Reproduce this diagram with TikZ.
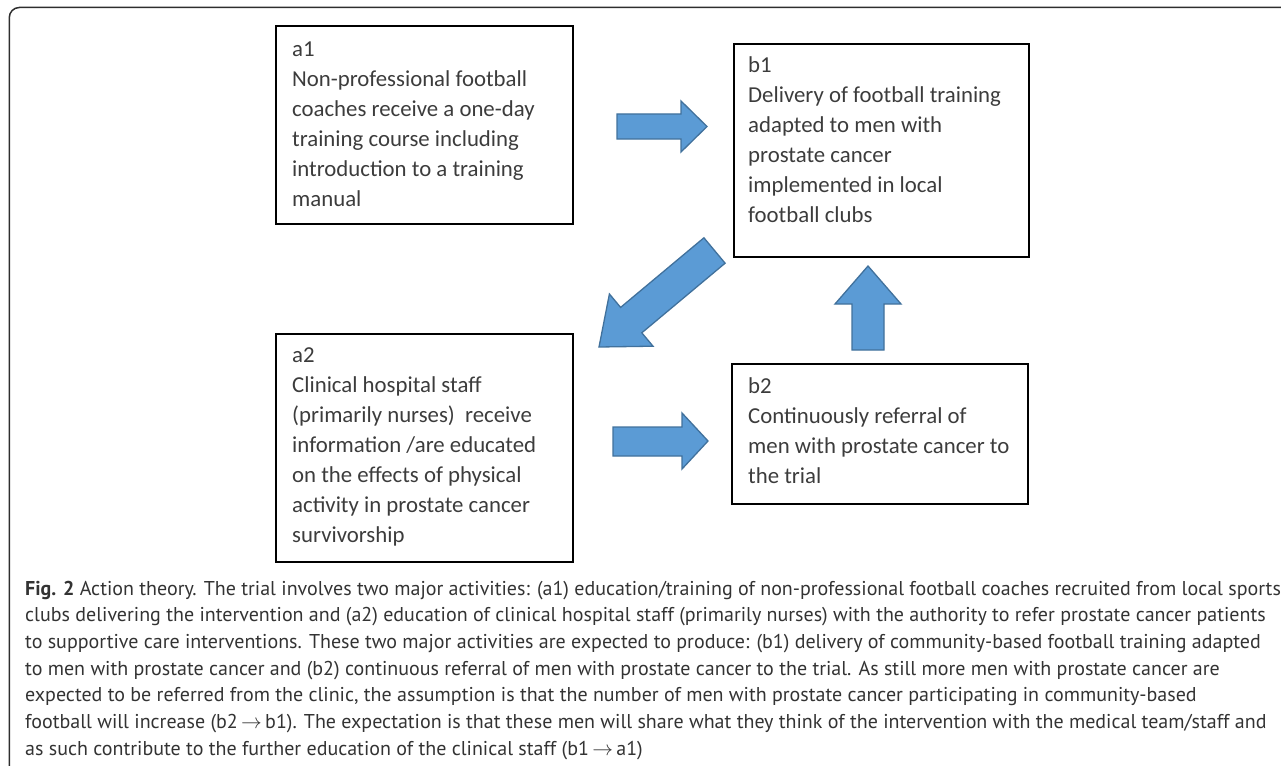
\documentclass[tikz,border=0pt]{standalone}
\usepackage{fontspec}
\setmainfont{Carlito}
\newfontfamily\capfont{PT Sans}
\usetikzlibrary{calc}
\definecolor{arrowfill}{HTML}{5B9BD5}
\definecolor{arrowline}{HTML}{41719C}
\definecolor{boxtextc}{HTML}{3C3C3C}
\definecolor{captextc}{HTML}{333333}
\definecolor{framec}{HTML}{2E2E2E}
\tikzset{
  box/.style={draw=black, line width=2.2pt, inner sep=0pt, anchor=north west},
  boxtext/.style={anchor=base west, inner sep=0pt, align=left, text=boxtextc,
    font=\fontsize{22.8}{30}\selectfont},
  blockarrow/.style={fill=arrowfill, draw=arrowline, line width=1.3pt, line join=miter},
  captext/.style={anchor=base west, inner sep=0pt, align=left, text=captextc,
    font=\capfont\fontsize{20}{26.7}\selectfont}
}
\begin{document}
\begin{tikzpicture}[x=1pt,y=-1pt]
\useasboundingbox (0,0) rectangle (1281,765);
% outer frame (cropped)
\draw[framec, line width=1.5pt, rounded corners=10pt] (9.3,770) -- (9.3,7.5) -- (1290,7.5);
% boxes
\node[box, minimum width=297pt, minimum height=198pt] (a1) at (275,25) {};
\node[box, minimum width=295pt, minimum height=213pt] (b1) at (733,43) {};
\node[box, minimum width=297pt, minimum height=228pt] (a2) at (275,333) {};
\node[box, minimum width=296pt, minimum height=140pt] (b2) at (731,363) {};
% box texts (anchored at the baseline of their last line)
\node[boxtext] (a1t) at ([xshift=17pt,yshift=-181.5pt]a1.north west)
  {a1\\Non-professional football\\coaches receive a one-day\\training course including\\introduction to a training\\manual};
\node[boxtext] (b1t) at ([xshift=15pt,yshift=-179pt]b1.north west)
  {b1\\Delivery of football training\\adapted to men with\\prostate cancer\\implemented in local\\football clubs};
\node[boxtext] (a2t) at ([xshift=17pt,yshift=-209pt]a2.north west)
  {a2\\Clinical hospital staff\\(primarily nurses)\ \ receive\\information /are educated\\on the effects of physical\\activity in prostate cancer\\survivorship};
\node[boxtext] (b2t) at ([xshift=17pt,yshift=-120pt]b2.north west)
  {b2\\Continuously referral of\\men with prostate cancer to\\the trial};
% block arrows
\draw[blockarrow] (617,114) -- (681,114) -- (681,101) -- (707,126.5) -- (681,152) -- (681,139) -- (617,139) -- cycle;
\draw[blockarrow] (613,427) -- (682,427) -- (682,413) -- (708,441) -- (682,469) -- (682,456) -- (613,456) -- cycle;
\draw[blockarrow] (852,350) -- (852,304) -- (835,304) -- (868,266) -- (901,304) -- (884,304) -- (884,350) -- cycle;
\draw[blockarrow] (725.1,263.2) -- (641.8,332.8) -- (653.0,346.2) -- (599.0,347.0) -- (609.4,294.0) -- (620.6,307.4) -- (703.9,237.8) -- cycle;
% caption (anchored at the baseline of its last line)
\node[captext] (cap) at (25,755.2)
  {\textbf{Fig. 2} Action theory. The trial involves two major activities: (a1) education/training of non-professional football coaches recruited from local sports\\
clubs delivering the intervention and (a2) education of clinical hospital staff (primarily nurses) with the authority to refer prostate cancer patients\\
to supportive care interventions. These two major activities are expected to produce: (b1) delivery of community-based football training adapted\\
to men with prostate cancer and (b2) continuous referral of men with prostate cancer to the trial. As still more men with prostate cancer are\\
expected to be referred from the clinic, the assumption is that the number of men with prostate cancer participating in community-based\\
football will increase (b2\,$\rightarrow$\,b1). The expectation is that these men will share what they think of the intervention with the medical team/staff and\\
as such contribute to the further education of the clinical staff (b1\,$\rightarrow$\,a1)};
\end{tikzpicture}
\end{document}
